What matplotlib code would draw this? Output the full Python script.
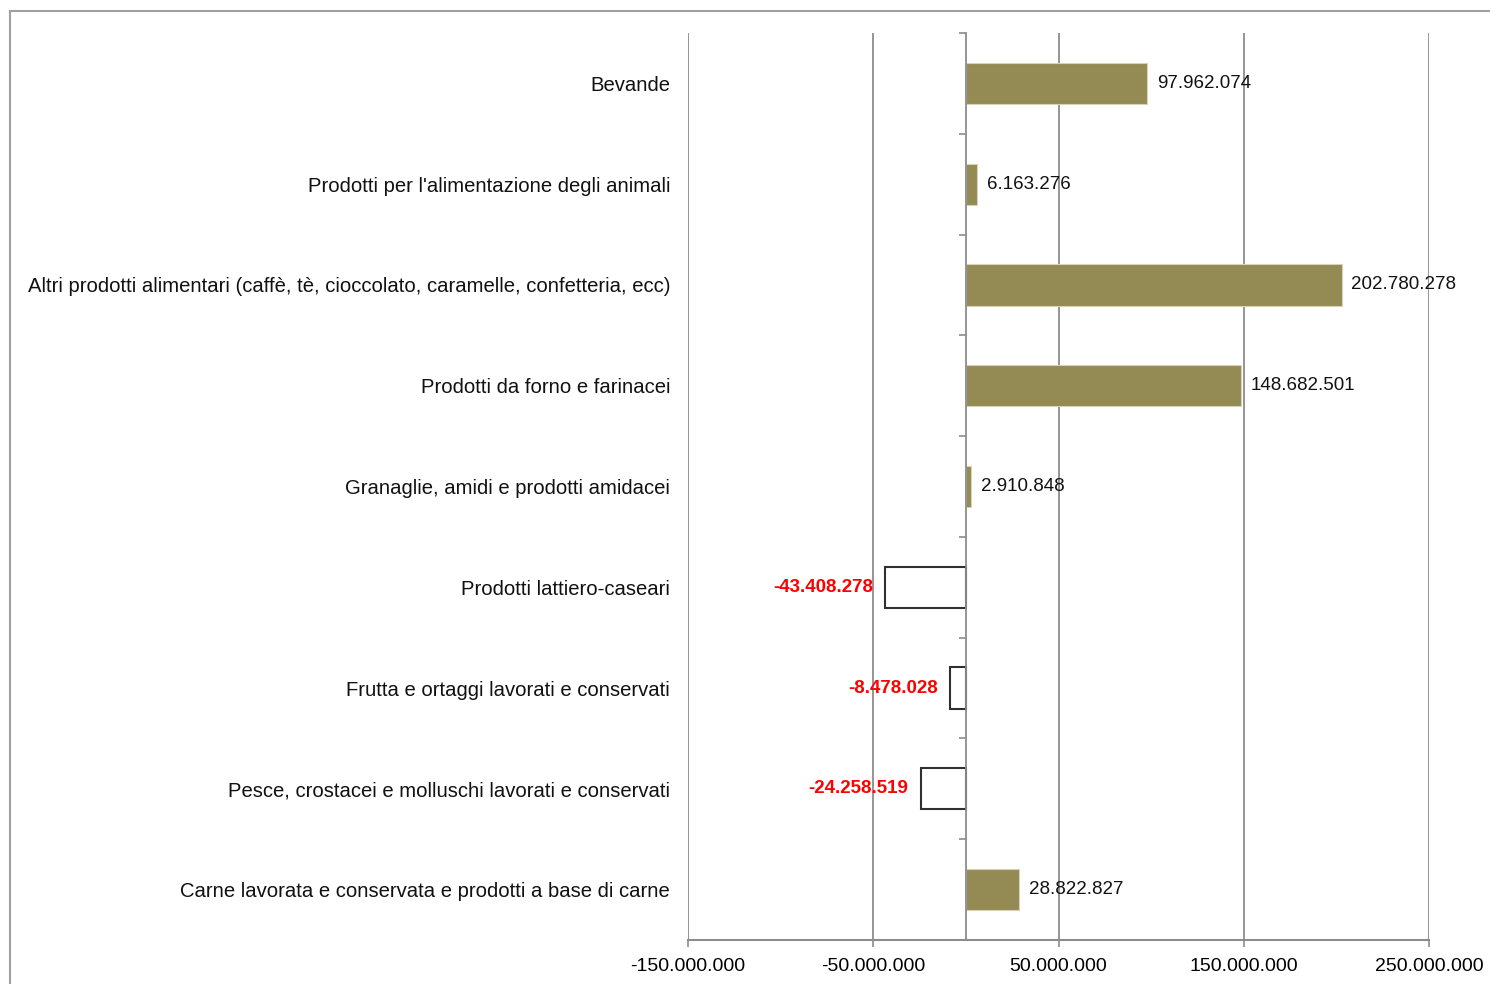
import matplotlib
matplotlib.use("Agg")
import numpy as np
import matplotlib.pyplot as plt
from matplotlib.patches import Rectangle
from matplotlib.ticker import FuncFormatter

# categories from bottom to top (as drawn)
categories = ['Carne lavorata e conservata e prodotti a base di carne',
              'Pesce, crostacei e molluschi lavorati e conservati',
              'Frutta e ortaggi lavorati e conservati',
              'Prodotti lattiero-caseari',
              'Granaglie, amidi e prodotti amidacei',
              'Prodotti da forno e farinacei',
              'Altri prodotti alimentari (caffè, tè, cioccolato, caramelle, confetteria, ecc)',
              "Prodotti per l'alimentazione degli animali",
              'Bevande']
values = [28822827, -24258519, -8478028, -43408278, 2910848,
          148682501, 202780278, 6163276, 97962074]
xticks = [-150000000, -50000000, 50000000, 150000000, 250000000]

plt.rcParams['font.family'] = ['Liberation Sans', 'DejaVu Sans']


def fmt(v):
    return '{:,.0f}'.format(v).replace(',', '.')


fig = plt.figure(figsize=(14.9, 9.84), dpi=100)
fig.patches.append(Rectangle((10/1490, -0.1), 1.2, 1 - 11/984 + 0.1, transform=fig.transFigure,
                             fill=False, edgecolor='#a0a0a0', linewidth=1.5))
ax = fig.add_axes([688/1490, 44/984, 741/1490, 907/984])

y = np.arange(len(categories))
pos_color = '#948a54'
for yi, v in zip(y, values):
    if v >= 0:
        ax.barh(yi, v, height=0.41, color=pos_color, edgecolor='#d8d2b8', linewidth=0.8, zorder=3)
        ax.annotate(fmt(v), (v, yi), xytext=(7, 0), textcoords='offset points',
                    ha='left', va='center', fontsize=13.5, color='#111111', zorder=4)
    else:
        ax.barh(yi, v, height=0.41, color='white', edgecolor='#303030', linewidth=1.5, zorder=3)
        ax.annotate(fmt(v), (v, yi), xytext=(-9, 0), textcoords='offset points',
                    ha='right', va='center', fontsize=13.5, color='#ff0000',
                    fontweight='bold', zorder=4)

# category labels on the far left
for yi, c in zip(y, categories):
    ax.text(-0.024, yi - 0.02, c, transform=ax.get_yaxis_transform(), ha='right', va='center',
            fontsize=14.6, color='#111111')

ax.set_xlim(-150000000, 250000000)
ax.set_ylim(-0.5, len(categories) - 0.5)
ax.set_xticks(xticks)
ax.xaxis.set_major_formatter(FuncFormatter(lambda v, p: fmt(v)))
ax.tick_params(axis='x', direction='out', length=5, width=1.2, color='#8c8c8c',
               labelsize=14, pad=8)
ax.grid(axis='x', color='#8c8c8c', linewidth=1.3, zorder=0)

# category axis crossing at zero
ax.spines['left'].set_position(('data', 0))
ax.spines['left'].set_color('#8c8c8c')
ax.spines['left'].set_linewidth(1.3)
ax.spines['left'].set_zorder(5)
ax.set_yticks([])
ax.set_yticks(np.arange(-0.5, len(categories), 1.0), minor=True)
ax.tick_params(axis='y', which='minor', direction='out', length=5, width=1.2, color='#8c8c8c')
ax.spines['bottom'].set_color('#8c8c8c')
ax.spines['bottom'].set_linewidth(1.5)
ax.spines['top'].set_visible(False)
ax.spines['right'].set_visible(False)

fig.savefig('out.png', dpi=100)
